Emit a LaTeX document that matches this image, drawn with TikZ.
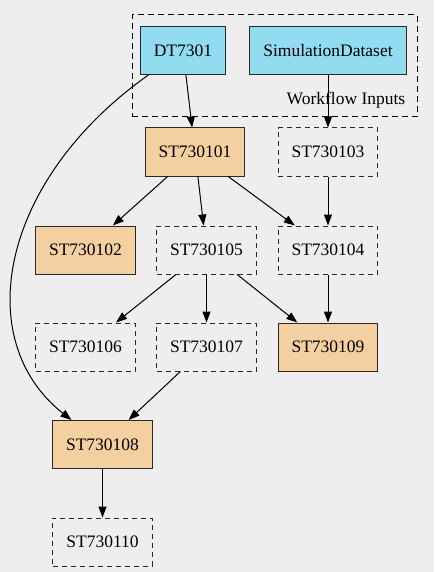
\documentclass[tikz,border=0pt]{standalone}
\usepackage{fontspec}
\setmainfont{Liberation Serif}
\usepackage{xcolor}
\usepackage{tikz}
\usetikzlibrary{arrows.meta, positioning, fit}
\definecolor{WFBackground}{RGB}{238, 238, 238}
\definecolor{WFInputBlue}{RGB}{146, 220, 242}
\definecolor{WFStepOrange}{RGB}{244, 208, 160}
\definecolor{WFBorder}{RGB}{40, 40, 40}

\begin{document}
\begin{tikzpicture}[x=1pt,y=-1pt,
    box/.style={draw=WFBorder, line width=1pt, minimum height=48pt, minimum width=97pt,
      inner xsep=13.5pt, font=\fontsize{17.5}{21}\selectfont},
    inputbox/.style={box, fill=WFInputBlue},
    donebox/.style={box, fill=WFStepOrange},
    todobox/.style={box, dash pattern=on 5pt off 4pt},
    cluster/.style={draw=black, line width=1pt, dash pattern=on 6pt off 4pt, inner sep=0pt},
    flow/.style={line width=1pt, -{Triangle[length=11pt,width=8pt]}}]
  \path[use as bounding box] (0,0) rectangle (434,572);

  % Background
  \fill[WFBackground] (0,0) rectangle (434,572);

  % Workflow Inputs cluster
  \node[cluster, fit={(132,15) (417,117)}] (inputs) {};
  \node[anchor=south east, font=\fontsize{17.5}{21}\selectfont, inner sep=0pt]
    at ([xshift=-12pt,yshift=9pt]inputs.south east) {Workflow Inputs};
  \node[inputbox, minimum width=80pt] (dt) at (183,50.5) {DT7301};
  \node[inputbox] (sim) at (328,50.5) {SimulationDataset};

  % Steps
  \node[donebox] (st101) at (195,152) {ST730101};
  \node[todobox] (st103) at (328,152) {ST730103};
  \node[donebox] (st102) at (85.5,250) {ST730102};
  \node[todobox] (st105) at (206.5,250) {ST730105};
  \node[todobox] (st104) at (328,250) {ST730104};
  \node[todobox] (st106) at (85.5,347) {ST730106};
  \node[todobox] (st107) at (206.5,347) {ST730107};
  \node[donebox] (st109) at (328,347) {ST730109};
  \node[donebox] (st108) at (102.5,444.5) {ST730108};
  \node[todobox] (st110) at (102.5,542) {ST730110};

  % Dependencies
  \foreach \src/\dst in {dt/st101, sim/st103, st101/st102, st101/st105, st101/st104,
      st103/st104, st105/st106, st105/st107, st105/st109, st104/st109,
      st107/st108, st108/st110}{
    \draw[flow] (\src) -- (\dst);
  }
  \draw[flow] (dt) .. controls (0,180) and (-30,340) .. (st108);
\end{tikzpicture}
\end{document}
